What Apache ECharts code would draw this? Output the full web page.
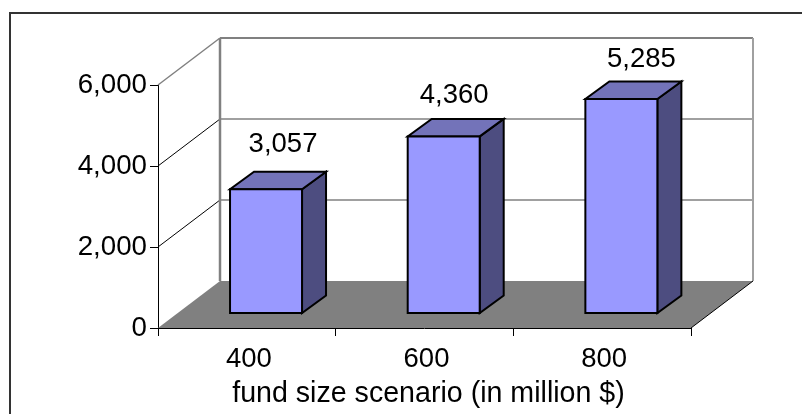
<!DOCTYPE html>
<html><head><meta charset="utf-8">
<style>html,body{margin:0;padding:0;background:#fff;overflow:hidden}#c{width:802px;height:414px}
#f{position:absolute;left:9px;top:12px;width:830px;height:440px;border:2px solid #333;box-sizing:border-box}</style>
<script src="https://cdn.jsdelivr.net/npm/echarts@6/dist/echarts.min.js"></script>
</head><body><div id="f"></div><div id="c" style="position:absolute;left:0;top:0"></div>
<script>
const categories = ['400','600','800'];
const values = [3057,4360,5285];
const valueTicks = [0,2000,4000,6000];
const xTitle = 'fund size scenario (in million $)';

const wallDx = 62, wallDy = -47;
const font = 'Liberation Sans';
const labelSize = 27.5;
const labelNudge = [[17,-44.5],[10.5,-40.5],[20,-39.5]];
const chart = echarts.init(document.getElementById('c'), null, {renderer:'canvas'});

// floor + walls, built from the axis scales
function renderWalls(params, api){
  const bw = api.size([1,0])[0];
  const left = api.coord([0,0])[0]-bw/2, right = api.coord([2,0])[0]+bw/2;
  const yAt = v => api.coord([0,v])[1];
  const children = [];
  children.push({type:'polygon',shape:{points:[[left,yAt(0)],[right,yAt(0)],[right+wallDx,yAt(0)+wallDy],[left+wallDx,yAt(0)+wallDy]]},style:{fill:'#808080',stroke:null},z2:1});
  valueTicks.slice(1).forEach(v=>{
    const top = v===valueTicks[valueTicks.length-1];
    children.push({type:'line',shape:{x1:left,y1:yAt(v),x2:left+wallDx,y2:yAt(v)+wallDy},style:{stroke:top?'#808080':'#000',lineWidth:top?1.5:1},z2:2});
    children.push({type:'line',shape:{x1:left+wallDx,y1:yAt(v)+wallDy,x2:right+wallDx,y2:yAt(v)+wallDy},style:{stroke:'#808080',lineWidth:top?2:1.3},z2:2});
  });
  const vt = valueTicks[valueTicks.length-1];
  children.push({type:'line',shape:{x1:left+wallDx,y1:yAt(vt)+wallDy,x2:left+wallDx,y2:yAt(0)+wallDy},style:{stroke:'#808080',lineWidth:2.5},z2:2});
  children.push({type:'line',shape:{x1:right+wallDx,y1:yAt(vt)+wallDy,x2:right+wallDx,y2:yAt(0)+wallDy},style:{stroke:'#a0a0a0',lineWidth:2},z2:2});
  children.push({type:'line',shape:{x1:right,y1:yAt(0),x2:right+wallDx,y2:yAt(0)+wallDy},style:{stroke:'#000',lineWidth:1},z2:3});
  return {type:'group',children};
}

const barDx = 24, barDy = -17.5, barW = 72, shiftX = 19.2, shiftY = -15;
function renderBar(params, api){
  const c = api.coord([api.value(0), api.value(1)]);
  const base = api.coord([api.value(0), 0]);
  const x0 = c[0]+shiftX-barW/2, x1 = x0+barW;
  const yt = c[1]+shiftY, yb = base[1]+shiftY;
  const st = {stroke:'#000',lineWidth:2,lineJoin:'miter'};
  const n = labelNudge[params.dataIndex];
  return {type:'group',children:[
    {type:'polygon',shape:{points:[[x1,yt],[x1+barDx,yt+barDy],[x1+barDx,yb+barDy],[x1,yb]]},style:Object.assign({fill:'#4d4d80'},st)},
    {type:'polygon',shape:{points:[[x0,yt],[x1,yt],[x1+barDx,yt+barDy],[x0+barDx,yt+barDy]]},style:Object.assign({fill:'#7373b9'},st)},
    {type:'rect',shape:{x:x0,y:yt,width:barW,height:yb-yt},style:Object.assign({fill:'#9999ff'},st)},
    {type:'text',x:x0+barW/2+n[0],y:yt+n[1],style:{text:api.value(1).toLocaleString('en-US'),font:labelSize+'px "'+font+'"',fill:'#000',align:'center',verticalAlign:'middle'}}
  ]};
}

chart.setOption({
  animation:false,
  backgroundColor:'transparent',
  grid:{left:158,right:111,top:85,bottom:86,containLabel:false},
  xAxis:{type:'category',data:categories,
    name:xTitle,nameLocation:'middle',nameGap:52,
    nameTextStyle:{fontFamily:font,fontSize:28.6,color:'#000',padding:[0,0,0,8]},
    axisLine:{show:true,lineStyle:{color:'#000',width:1}},
    axisTick:{show:true,alignWithLabel:false,length:8,lineStyle:{color:'#000'}},
    axisLabel:{fontFamily:font,fontSize:labelSize,color:'#000',margin:17,padding:[0,0,0,4]}},
  yAxis:{type:'value',min:0,max:6000,interval:2000,
    axisLine:{show:true,lineStyle:{color:'#000',width:1}},
    axisTick:{show:true,length:8,lineStyle:{color:'#000'}},
    splitLine:{show:false},
    axisLabel:{fontFamily:font,fontSize:27.7,color:'#000',margin:11,formatter:v=>v.toLocaleString('en-US')}},
  series:[
    {type:'custom',renderItem:renderWalls,data:[[0,0]],silent:true,clip:false,z:1,encode:{x:0,y:1}},
    {type:'custom',renderItem:renderBar,data:values.map((v,i)=>[i,v]),clip:false,z:2,encode:{x:0,y:1}}
  ]
});
</script></body></html>
